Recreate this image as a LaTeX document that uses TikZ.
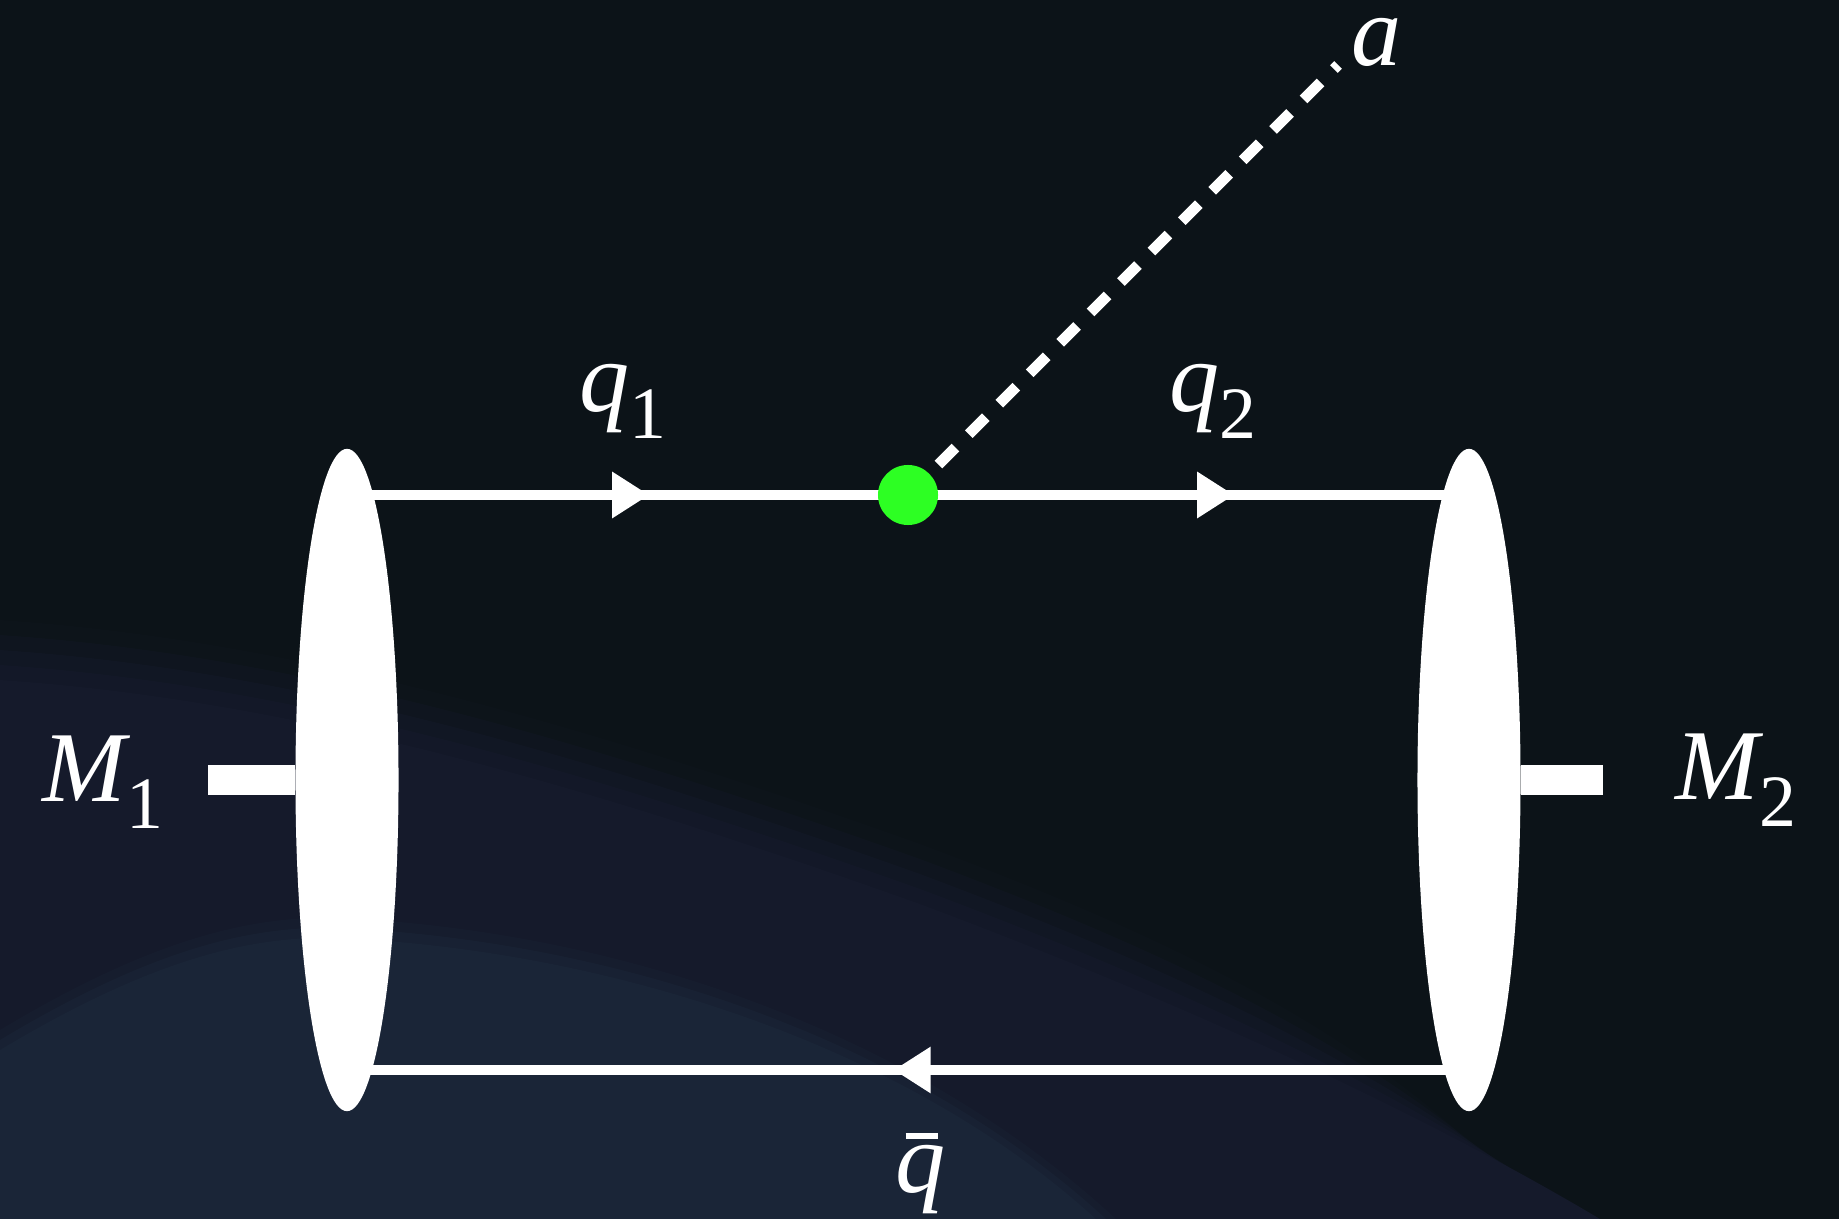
\documentclass[tikz,border=0pt]{standalone}
\usepackage{fontspec}
\setmainfont{Liberation Serif}
\definecolor{bgdark}{RGB}{12,19,24}
\definecolor{bgmid}{RGB}{21,26,43}
\definecolor{bglight}{RGB}{26,37,55}
\definecolor{vertexgreen}{RGB}{45,255,35}
\usetikzlibrary{shapes.geometric,arrows.meta,decorations.markings,positioning}

\newcommand{\subidx}[1]{\raisebox{-0.26em}{\upshape\fontsize{21}{21}\selectfont #1}}
\newcommand{\qbar}{\rlap{\hspace{0.1em}\rule[0.53em]{0.32em}{0.06em}}\textit{q}}

\tikzset{
  quark/.style={draw=white, line width=3.1pt},
  fermion/.style={quark, postaction={decorate},
    decoration={markings, mark=at position #1 with {\arrow{Triangle[length=0.37cm,width=0.44cm]}}}},
  meson/.style={ellipse, fill=white, inner sep=0pt, minimum width=1.03cm, minimum height=6.62cm},
  stub/.style={draw=white, line width=8.5pt},
  vertex/.style={circle, fill=vertexgreen, inner sep=0pt, minimum size=0.6cm},
  axion/.style={draw=white, line width=3.1pt, dash pattern=on 0.24cm off 0.19cm},
  lbl/.style={text=white, inner sep=0pt, anchor=base west, font=\fontsize{28.5}{30}\selectfont\itshape}
}

\begin{document}
\begin{tikzpicture}[x=0.01cm, y=-0.01cm]
  \useasboundingbox (0,0) rectangle (1839,1219);
  % background
  \fill[bgdark] (0,0) rectangle (1839,1219);
  \foreach \d/\o in {60/0.15, 45/0.3, 30/0.45, 15/0.65, 0/1}
    \fill[bgmid, opacity=\o] (0,680-\d) .. controls (300,700-\d) and (600,790-\d) .. (920,904-\d)
      .. controls (1150,990-\d) and (1400,1100-\d) .. (1600-\d,1219) -- (0,1219) -- cycle;
  \foreach \d/\o in {20/0.3, 10/0.6, 0/1}
    \fill[bglight, opacity=\o] (0,1050-\d) .. controls (150,960-\d) and (250,935-\d) .. (340,938-\d)
      .. controls (600,950-\d) and (900,1040-\d) .. (1096+\d,1219) -- (0,1219) -- cycle;

  % quark lines
  \coordinate (lt) at (347,495);
  \coordinate (rt) at (1469,495);
  \coordinate (lb) at (347,1070);
  \coordinate (rb) at (1469,1070);
  \coordinate (v) at (908,495);
  \coordinate (aend) at (1338,65);
  \draw[fermion=3.02cm] (lt) -- (v);
  \draw[fermion=3.26cm] (v) -- (rt);
  \draw[fermion=5.75cm] (rb) -- (lb);

  % mesons
  \node[meson] (m1) at (347,780) {};
  \node[meson] (m2) at (1469,780) {};
  \coordinate (s1) at (208,780);
  \coordinate (s2) at (1603,780);
  \draw[stub] (s1) -- (m1.west);
  \draw[stub] (m2.east) -- (s2);

  % emitted particle
  \draw[axion] (v) -- (aend);
  \node[vertex] (dot) at (v) {};

  % labels
  \node[lbl] (q1) at (579,412) {q\subidx{1}};
  \node[lbl] (q2) at (1169,412) {q\subidx{2}};
  \node[lbl] (qb) at (895,1192) {\qbar};
  \node[lbl, text height=0.46em] (a) at (1351,66) {a};
  \node[lbl] (M1) at (42,802) {M\subidx{1}};
  \node[lbl] (M2) at (1675,800) {M\subidx{2}};
\end{tikzpicture}
\end{document}
